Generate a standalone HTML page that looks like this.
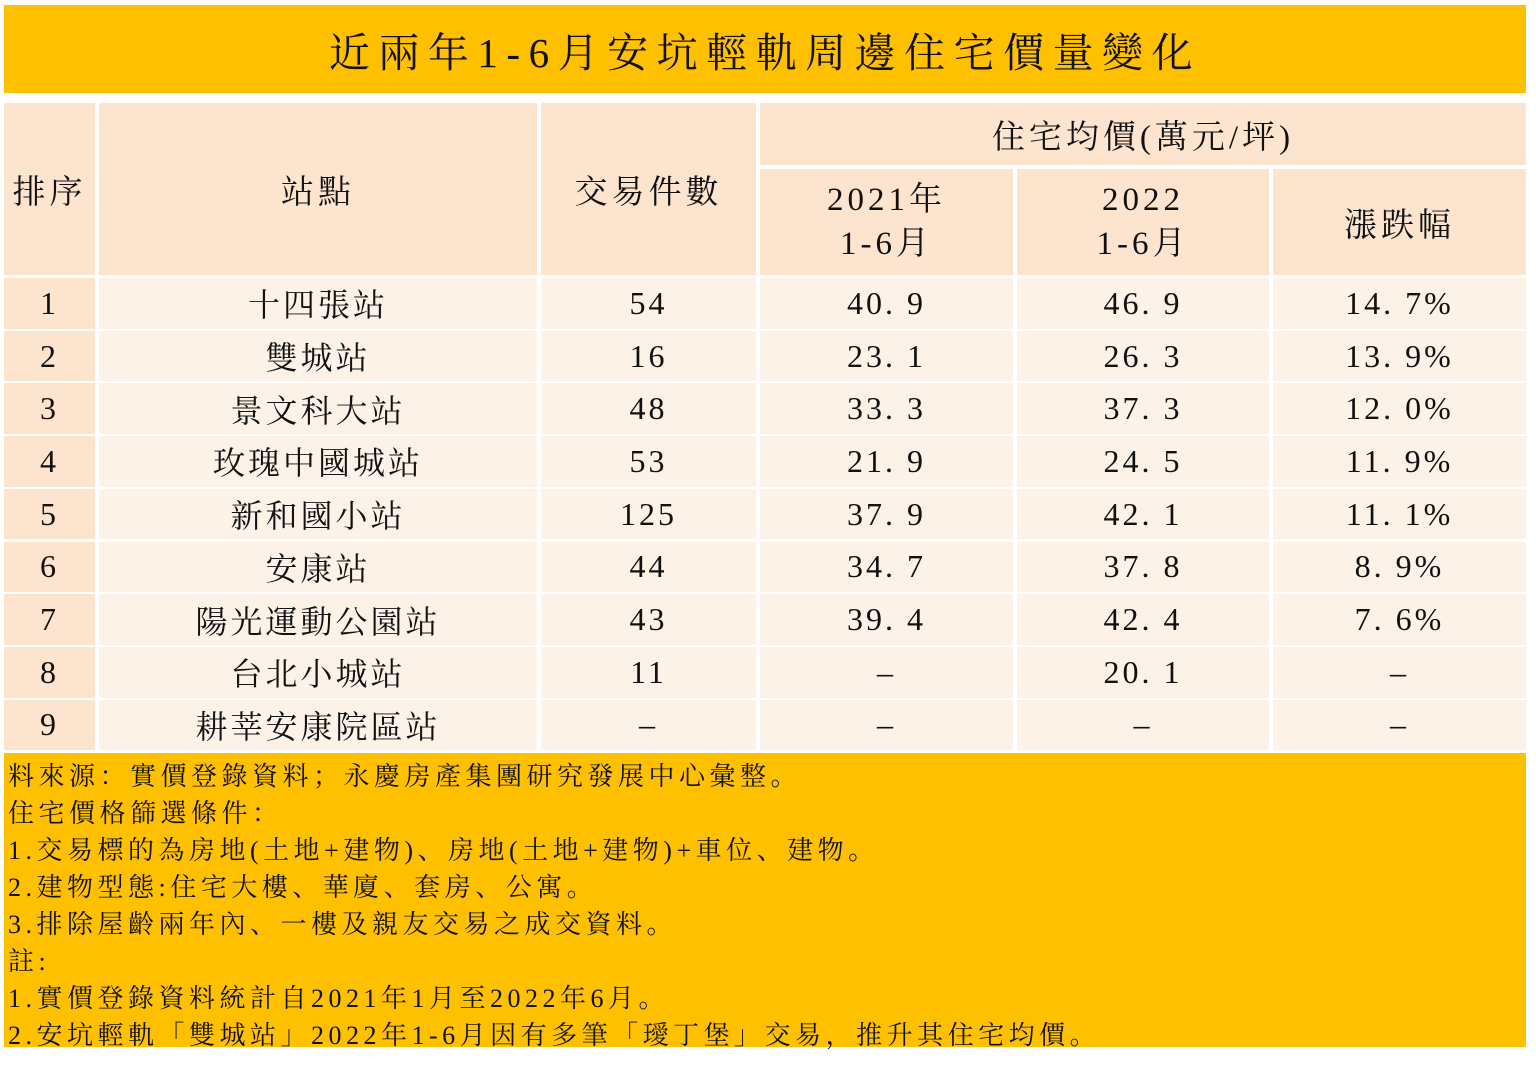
<!DOCTYPE html>
<html><head><meta charset="utf-8"><style>
body{margin:0;width:1536px;height:1068px;background:#fff;position:relative;overflow:hidden;font-family:"Liberation Serif","Noto Serif CJK SC",serif;color:#111}
.a{position:absolute;box-sizing:border-box;display:flex;align-items:center;justify-content:center;text-align:center}
.h{background:#FCE4CF}
.b{background:#FDF2E8}
.t{font-size:33px;letter-spacing:4px}
.n{font-size:32px;letter-spacing:3px}
.f{position:absolute;left:8px;font-size:26px;letter-spacing:4.5px;white-space:nowrap}
</style></head><body>
<div class="a" style="left:4px;top:5px;width:1522px;height:88px;background:#FFC000;font-size:41px;letter-spacing:8.5px">近兩年1-6月安坑輕軌周邊住宅價量變化</div>
<div class="a h t" style="left:4px;top:103px;width:91px;height:172px">排序</div>
<div class="a h t" style="left:99px;top:103px;width:438px;height:172px">站點</div>
<div class="a h t" style="left:541px;top:103px;width:215px;height:172px">交易件數</div>
<div class="a h t" style="left:760px;top:103px;width:766px;height:62px">住宅均價(萬元/坪)</div>
<div class="a h t" style="left:760px;top:169px;width:253px;height:106px;line-height:44px">2021年<br>1-6月</div>
<div class="a h t" style="left:1017px;top:169px;width:252px;height:106px;line-height:44px">2022<br>1-6月</div>
<div class="a h t" style="left:1273px;top:169px;width:253px;height:106px">漲跌幅</div>
<div id="rows"></div>
<script>
var d=[["1","十四張站","54","40.9","46.9","14.7%"],["2","雙城站","16","23.1","26.3","13.9%"],["3","景文科大站","48","33.3","37.3","12.0%"],["4","玫瑰中國城站","53","21.9","24.5","11.9%"],["5","新和國小站","125","37.9","42.1","11.1%"],["6","安康站","44","34.7","37.8","8.9%"],["7","陽光運動公園站","43","39.4","42.4","7.6%"],["8","台北小城站","11","–","20.1","–"],["9","耕莘安康院區站","–","–","–","–"]];
var xs=[[4,91],[99,438],[541,215],[760,253],[1017,252],[1273,253]];
var h="";
for(var i=0;i<9;i++){var y=278+i*52.7;for(var j=0;j<6;j++){var v=d[i][j];if(j>=3&&v!="–")v=v.replace(".",". ");h+='<div class="a '+(j==0?'h':'b')+' n" style="left:'+xs[j][0]+'px;top:'+y+'px;width:'+xs[j][1]+'px;height:50.7px">'+v+'</div>';}}
document.getElementById("rows").innerHTML=h;
</script>
<div style="position:absolute;left:4px;top:753px;width:1522px;height:294px;background:#FFC000"></div>
<div class="f" style="top:756px">料來源：實價登錄資料；永慶房產集團研究發展中心彙整。</div>
<div class="f" style="top:793px">住宅價格篩選條件：</div>
<div class="f" style="top:830px">1.交易標的為房地(土地+建物)、房地(土地+建物)+車位、建物。</div>
<div class="f" style="top:867px">2.建物型態:住宅大樓、華廈、套房、公寓。</div>
<div class="f" style="top:904px">3.排除屋齡兩年內、一樓及親友交易之成交資料。</div>
<div class="f" style="top:941px">註:</div>
<div class="f" style="top:978px">1.實價登錄資料統計自2021年1月至2022年6月。</div>
<div class="f" style="top:1015px">2.安坑輕軌「雙城站」2022年1-6月因有多筆「璦丁堡」交易，推升其住宅均價。</div>
</body></html>
